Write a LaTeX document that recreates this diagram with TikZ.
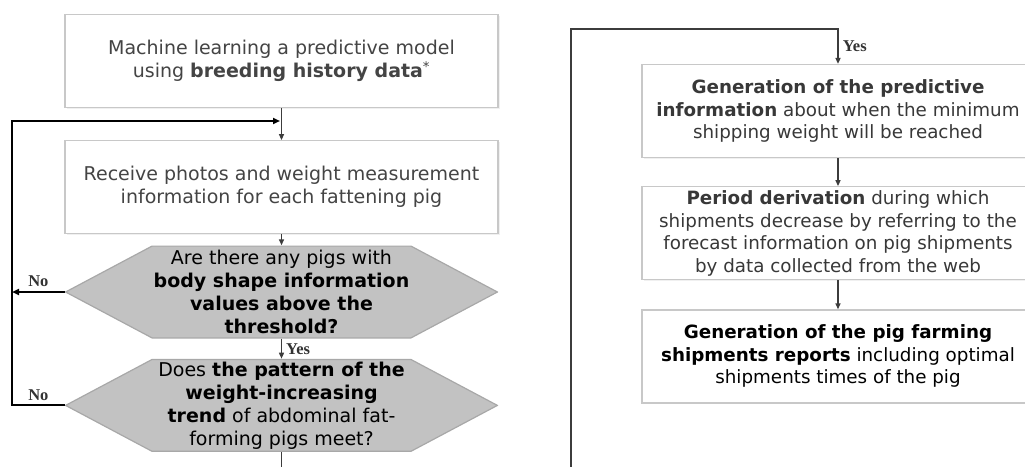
\documentclass[tikz,border=0pt]{standalone}
\usepackage{fontspec}
\setmainfont{DejaVu Sans}
\newfontfamily\answerfont{Liberation Serif}
\usetikzlibrary{arrows.meta,positioning,shadows}
\usepackage{xcolor}
\definecolor{boxline}{HTML}{C8C8C8}
\definecolor{boxtext}{HTML}{444444}
\definecolor{hexfill}{HTML}{C2C2C2}
\definecolor{hexline}{HTML}{A8A8A8}
\definecolor{flowline}{HTML}{3C3C3C}

\begin{document}
\begin{tikzpicture}[x=1pt,y=1pt,
	  every node/.style={align=center,font=\fontsize{19}{23}\selectfont},
	  process/.style={draw=boxline,line width=1.2pt,fill=white,minimum width=433pt,minimum height=93pt,inner sep=0pt,text=boxtext,
	    drop shadow={shadow xshift=1.5pt,shadow yshift=-1.5pt,opacity=0.12}},
	  wide/.style={process,minimum width=392pt,text=black!78,font=\fontsize{18.3}{22.5}\selectfont},
	  decision/.style={minimum width=433pt,minimum height=93pt,inner sep=0pt,text=black,
	    path picture={\filldraw[draw=hexline,fill=hexfill,line width=1.2pt]
	      ([xshift=0.6pt]path picture bounding box.west) -- ([shift={(87,-0.6)}]path picture bounding box.north west)
	      -- ([shift={(-87,-0.6)}]path picture bounding box.north east) -- ([xshift=-0.6pt]path picture bounding box.east)
	      -- ([shift={(-87,0.6)}]path picture bounding box.south east) -- ([shift={(87,0.6)}]path picture bounding box.south west) -- cycle;}},
	  answer/.style={font=\answerfont\bfseries\fontsize{16.5}{18}\selectfont,text=black!80,inner sep=4pt},
	  flow/.style={->,>={Triangle[length=6pt,width=5pt]},draw=flowline,line width=1.4pt},
	  loopback/.style={->,>={Triangle[length=7pt,width=6pt]},draw=black,line width=2pt}]

	  \useasboundingbox (0,0) rectangle (1025,-466);

	  % left column: model, measurements and the two checks
	  \node[process] (learn) at (281.5,-61) {Machine learning a predictive model\\ using \textbf{breeding history data}\textsuperscript{*}};
	  \node[process,below=32pt of learn] (receive) {Receive photos and weight measurement\\ information for each fattening pig};
	  \node[decision,below=11pt of receive] (shape) {Are there any pigs with\\ \textbf{body shape information}\\ \textbf{values above the}\\ \textbf{threshold?}};
	  \node[decision,below=20pt of shape] (trend) {Does \textbf{the pattern of the}\\ \textbf{weight-increasing}\\ \textbf{trend} of abdominal fat-\\ forming pigs meet?};

	  % right column: predictions and reports
	  \node[wide] (predict) at (838,-111) {\textbf{Generation of the predictive}\\ \textbf{information} about when the minimum\\ shipping weight will be reached};
	  \node[wide,below=28pt of predict] (period) {\textbf{Period derivation} during which\\ shipments decrease by referring to the\\ forecast information on pig shipments\\ by data collected from the web};
	  \node[wide,below=29pt of period,text=black] (report) {\textbf{Generation of the pig farming}\\ \textbf{shipments reports} including optimal\\ shipments times of the pig};

	  \coordinate (westrail) at (12,0);
	  \coordinate (rejoin) at (280,-121);
	  \coordinate (downL) at (281.5,-470);
	  \coordinate (upR) at (571,-470);
	  \coordinate (topR) at (571,-29);

	  \draw[flow] (learn) -- (receive);
	  \draw[flow] (receive) -- (shape);
	  \draw[flow] (shape) -- node[answer,right]{Yes} (trend);
	  \draw[flow,-] (trend) -- (downL);
	  \draw[loopback] (shape.west) -- node[answer,above]{No} (shape.west -| westrail);
	  \draw[loopback] (trend.west) -- node[answer,above]{No} (trend.west -| westrail) |- (rejoin);

	  \draw[flow,line width=1.7pt] (upR) -- (topR) -| node[answer,pos=0.75,right]{Yes} (predict.north);
	  \draw[flow] (predict) -- (period);
	  \draw[flow] (period) -- (report);

\end{tikzpicture}
\end{document}
